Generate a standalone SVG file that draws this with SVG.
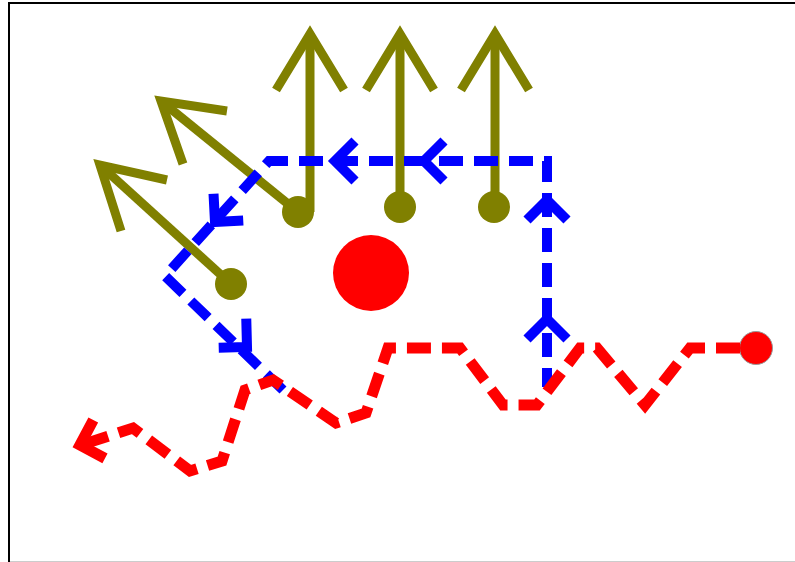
<svg xmlns="http://www.w3.org/2000/svg" xmlns:xlink="http://www.w3.org/1999/xlink" width="795" height="562" viewBox="0 0 795 562">
<style>
.olive{fill:none;stroke:#808000;stroke-width:9;stroke-linecap:butt;stroke-linejoin:miter}
.dot{fill:#808000}
.blue{fill:none;stroke:#0000ff;stroke-width:10;stroke-dasharray:24 11;stroke-dashoffset:5;stroke-linejoin:miter}
.red{fill:none;stroke:#ff0000;stroke-width:11;stroke-dasharray:24 11;stroke-linejoin:miter}
.bchev{fill:none;stroke:#0000ff;stroke-width:10;stroke-linejoin:miter}
.rchev{fill:none;stroke:#ff0000;stroke-width:11;stroke-linejoin:miter}
</style>
<defs>
<path id="chev" d="M -20 -20 L 0 0 L -20 20"/>
</defs>
<rect x="0" y="0" width="795" height="562" fill="#ffffff"/>
<rect x="9" y="3" width="800" height="559.8" fill="none" stroke="#000000" stroke-width="2"/>
<g id="nodeA">
<path class="olive" d="M 231 284 L 100 165"/>
<path class="olive" d="M 121 231 L 100 165 L 167 180"/>
<circle class="dot" cx="231" cy="284" r="16"/>
</g>
<g id="nodeB">
<path class="olive" d="M 298 212 L 161 101"/>
<path class="olive" d="M 183 164 L 161 101 L 227 111"/>
<path class="olive" d="M 310 212 L 310 34"/>
<path class="olive" d="M 276 90 L 310 34 L 344 90"/>
<circle class="dot" cx="298" cy="212" r="16"/>
</g>
<g id="nodeC">
<path class="olive" d="M 400 207 L 400 34"/>
<path class="olive" d="M 366 90 L 400 34 L 434 90"/>
<circle class="dot" cx="400" cy="207" r="16"/>
</g>
<g id="nodeD">
<path class="olive" d="M 495 207 L 495 34"/>
<path class="olive" d="M 461 90 L 495 34 L 529 90"/>
<circle class="dot" cx="494" cy="207" r="16"/>
</g>
<g id="nodeE">
<circle cx="371" cy="273" r="38" fill="#ff0000"/>
</g>
<g id="nodeF">
<circle cx="756" cy="348" r="16.5" fill="#ff0000" stroke="#999999" stroke-width="1"/>
</g>
<g id="connectors">
<path class="blue" d="M 547 387 L 547 161 L 269 161 L 165 276 L 283 390"/>
<use xlink:href="#chev" class="bchev" transform="translate(547,319) rotate(-90)"/>
<use xlink:href="#chev" class="bchev" transform="translate(547,200) rotate(-90)"/>
<use xlink:href="#chev" class="bchev" transform="translate(424,161) rotate(180)"/>
<use xlink:href="#chev" class="bchev" transform="translate(335,161) rotate(180)"/>
<use xlink:href="#chev" class="bchev" transform="translate(215,222) rotate(132)"/>
<use xlink:href="#chev" class="bchev" transform="translate(247,347) rotate(43.5)"/>
<path class="red" d="M 740 348 L 690 348 L 645 405 L 597 348 L 580 348 L 537 405 L 503 405 L 460 348 L 388 348 L 366 413 L 336 423 L 273 380 L 245 390 L 222 461 L 190 471 L 133 428 L 78 446"/>
<use xlink:href="#chev" class="rchev" transform="translate(80,445) rotate(163)"/>
</g>
</svg>
